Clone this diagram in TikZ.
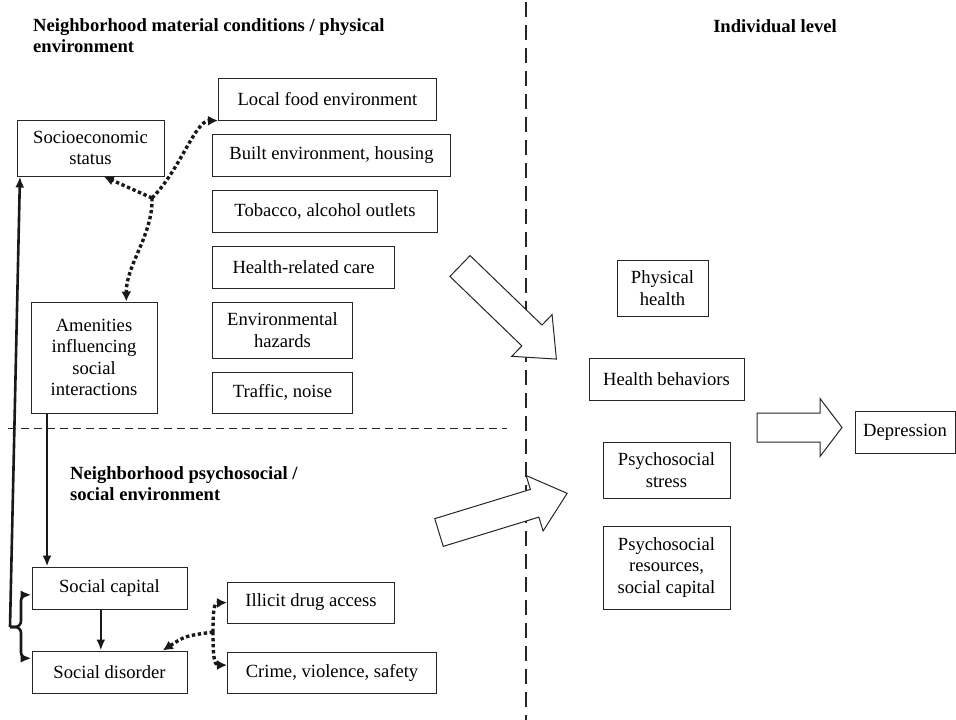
\documentclass[tikz,border=0pt]{standalone}
\usepackage{fontspec}
\setmainfont{Liberation Serif}
\usetikzlibrary{arrows.meta}

\tikzset{
  box/.style={draw=black!85, line width=1pt, align=center, inner sep=2pt, fill=white,
    font=\fontsize{18.6}{21.3}\selectfont},
  heading/.style={align=left, inner sep=0pt, font=\fontsize{18.6}{21.3}\selectfont\bfseries},
  solidarrow/.style={line width=2.6pt, black!90, -{Latex[length=11pt,width=9pt]}},
  dotarrow/.style={line width=3.4pt, black!90, dash pattern=on 3.4pt off 2.6pt, -{Latex[length=10pt,width=10pt]}},
  fatarrow/.style={draw=black!85, line width=1pt, fill=white, line join=miter}
}
% tail point, angle, length, head length
\newcommand{\fatarrow}[4]{%
  \draw[fatarrow, shift={(#1)}, rotate=#2]
    (0,-14.5) -- ({#3-#4},-14.5) -- ({#3-#4},-29) -- (#3,0) -- ({#3-#4},29) -- ({#3-#4},14.5) -- (0,14.5) -- cycle;}

\begin{document}
\begin{tikzpicture}[x=1pt,y=-1pt]
    \useasboundingbox (0,0) rectangle (956,720);
    \fill[white] (0,0) rectangle (956,720);

    % level dividers
    \draw[line width=1.3pt, black!85, dash pattern=on 15pt off 8pt] (526,2) -- (526,720);
    \draw[line width=0.9pt, black!85, dash pattern=on 8pt off 5pt] (8,428) -- (507,428);

    \fatarrow{460,266}{-44}{134}{34}
    \fatarrow{439,532.5}{17}{134}{34}
    \fatarrow{757,427.5}{0}{85}{22}

    % headings
    \node[heading, anchor=north west] (hmat) at (33,18) {Neighborhood material conditions / physical\\environment};
    \node[heading] (hind) at (775,26) {Individual level};
    \node[heading, anchor=north west] (hpsy) at (70,466) {Neighborhood psychosocial /\\social environment};

    % neighborhood level
    \node[box, minimum width=147pt, minimum height=56pt] (ses) at (90.5,148) {Socioeconomic\\status};
    \node[box, minimum width=126pt, minimum height=111pt] (amen) at (94,357.5) {Amenities\\influencing\\social\\interactions};
    \node[box, minimum width=155pt, minimum height=42pt] (scap) at (109.5,588) {Social capital};
    \node[box, minimum width=155pt, minimum height=42pt] (sdis) at (109.5,672) {Social disorder};

    \foreach \nm/\xx/\yy/\ww/\hh/\txt in {
        food/218/99/218/42/{Local food environment},
        built/212/155/238/42/{Built environment, housing},
        tobacco/212/211/225/42/{Tobacco, alcohol outlets},
        care/212/267/182/42/{Health-related care},
        hazards/212/330/140/56/{Environmental\\hazards},
        traffic/212/392.5/140/41/{Traffic, noise},
        drug/227/602.5/167/41/{Illicit drug access},
        crime/227/672.5/209/41/{Crime, violence, safety}}
    {
        \node[box, anchor=west, minimum width=\ww pt, minimum height=\hh pt] (\nm) at (\xx,\yy) {\txt};
    }

    % individual level
    \node[box, minimum width=91pt, minimum height=56pt] (phys) at (662.5,288) {Physical\\health};
    \node[box, minimum width=155pt, minimum height=42pt] (behav) at (666.5,379) {Health behaviors};
    \node[box, minimum width=127pt, minimum height=56pt] (stress) at (666.5,470) {Psychosocial\\stress};
    \node[box, minimum width=127pt, minimum height=83pt] (resrc) at (666.5,567.5) {Psychosocial\\resources,\\social capital};
    \node[box, minimum width=100pt, minimum height=42pt] (depr) at (905,432) {Depression};

    % connectors
    \coordinate (jtop) at (152,198);
    \coordinate (jbot) at (213,632);
    \coordinate (brtip) at (10,627);
    \draw[dotarrow] (jtop) -- (ses.295);
    \draw[dotarrow] (jtop) .. controls (180,170) and (195,121) .. (food.south west);
    \draw[dotarrow] (jtop) .. controls (153,235) and (126,265) .. (amen.60);
    \draw[dotarrow] (jbot) .. controls (213,610) and (214,603) .. (drug.west);
    \draw[dotarrow] (jbot) .. controls (213,655) and (214,665) .. (crime.176);
    \draw[dotarrow] (jbot) .. controls (185,636) .. (sdis.22);

    \draw[solidarrow] (amen.230) -- (amen.230 |- scap.north);
    \draw[solidarrow] (scap.248) -- (scap.248 |- sdis.north);
    \draw[solidarrow] (brtip) -- (ses.202);
    \draw[solidarrow, rounded corners=6pt] (brtip) -- (21,627) |- (scap.185);
    \draw[solidarrow, rounded corners=6pt] (brtip) -- (21,627) |- (sdis.170);
\end{tikzpicture}
\end{document}
